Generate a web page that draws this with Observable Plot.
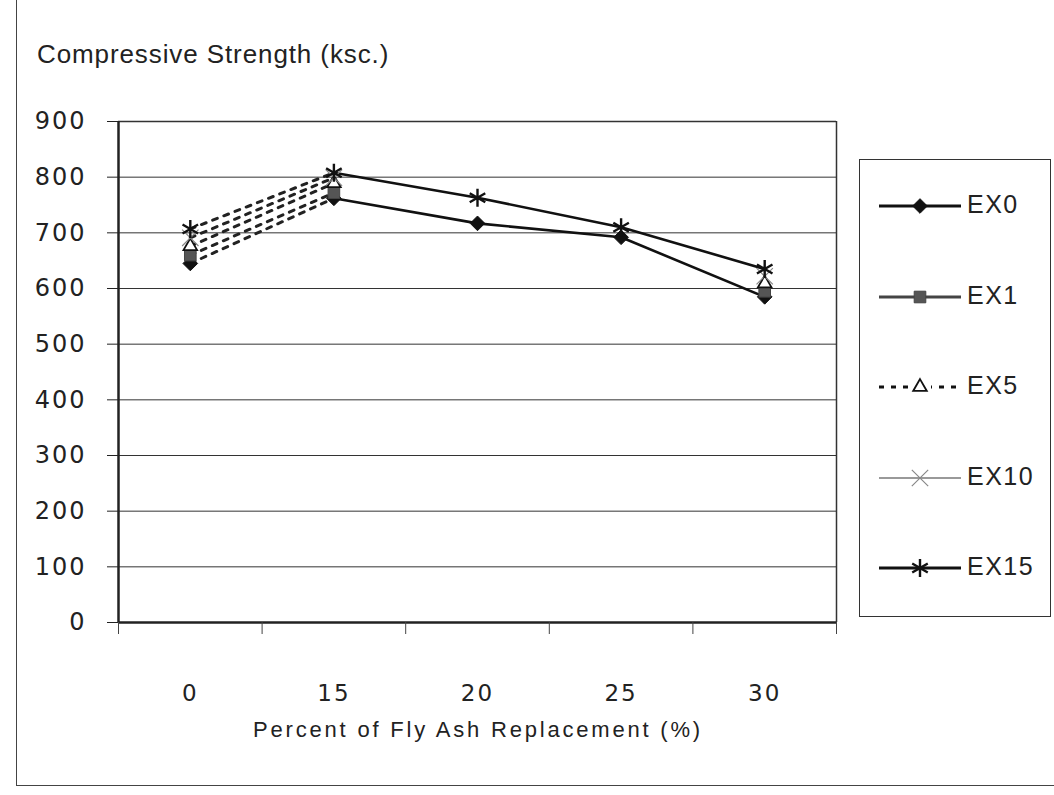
<!DOCTYPE html>
<html>
<head>
<meta charset="utf-8">
<script src="https://cdn.jsdelivr.net/npm/d3@7"></script>
<script src="https://cdn.jsdelivr.net/npm/@observablehq/plot@0.6"></script>
<style>
  html, body { margin: 0; padding: 0; background: #fff; }
  #wrap { position: relative; width: 1054px; height: 795px; overflow: hidden; background: #fff; }
  #border { position: absolute; left: 16px; top: -5px; width: 1100px; height: 791px; border-left: 1.5px solid #444; border-bottom: 1.5px solid #444; box-sizing: border-box; }
  #title { position: absolute; left: 37px; top: 41px; font: 26px "Liberation Sans", Arial, sans-serif; letter-spacing: 0.9px; color: #222; line-height: 1; white-space: nowrap; }
  #xtitle { position: absolute; left: 478px; top: 719px; transform: translateX(-50%); font: 22px "Liberation Sans", Arial, sans-serif; letter-spacing: 2.8px; color: #222; line-height: 1; white-space: nowrap; }
  #chart { position: absolute; left: 0; top: 0; }
  #chart svg text { letter-spacing: 2px; }
  #legend { position: absolute; left: 859px; top: 159px; width: 192px; height: 458px; border: 1.5px solid #333; box-sizing: border-box; }
  .entry { position: absolute; left: 0; width: 190px; height: 30px; }
  .entry svg { position: absolute; left: 0; top: 0; }
  .entry span { position: absolute; left: 107px; top: 1px; font: 25px "Liberation Sans", Arial, sans-serif; letter-spacing: 1.5px; color: #222; line-height: 1; }
</style>
</head>
<body>
<div id="wrap">
  <div id="border"></div>
  <div id="title">Compressive Strength (ksc.)</div>
  <div id="chart"></div>
  <div id="xtitle">Percent of Fly Ash Replacement (%)</div>
  <div id="legend"></div>
</div>
<script>
// ---- data ----
const categories = ["0", "15", "20", "25", "30"];
const seriesNames = ["EX0", "EX1", "EX5", "EX10", "EX15"];
const ex0  = [645, 762, 717, 692, 585];
const ex1  = [660, 772, null, null, 595];
const ex5  = [676, 789, null, null, 609];
const ex10 = [691, 799, null, null, 622];
const ex15 = [707, 808, 763, 710, 635];
const yTicks = [0, 100, 200, 300, 400, 500, 600, 700, 800, 900];

const values = {EX0: ex0, EX1: ex1, EX5: ex5, EX10: ex10, EX15: ex15};

// ---- styles per series ----
const styles = {
  EX0:  {line: "#111", symbol: "diamond2", fill: "#111", stroke: "#111", r: 6.6, sw: 1},
  EX1:  {line: "#444", symbol: "square2", fill: "#555", stroke: "#444", r: 7.4, sw: 1},
  EX5:  {line: "#111", symbol: "triangle2", fill: "#fff", stroke: "#111", r: 6.5, sw: 1.8},
  EX10: {line: "#999", symbol: "times", fill: "none", stroke: "#888", r: 7.5, sw: 1.2},
  EX15: {line: "#111", symbol: "asterisk", fill: "none", stroke: "#111", r: 8.5, sw: 2.4}
};

const rows = [];
for (const s of seriesNames) {
  categories.forEach((c, i) => rows.push({series: s, i, cat: c, v: values[s][i]}));
}

const marks = [
  Plot.ruleY(yTicks, {stroke: "#333", strokeWidth: 1}),
  Plot.ruleY([0], {stroke: "#222", strokeWidth: 2.5}),
  Plot.ruleY([900], {stroke: "#333", strokeWidth: 1.5}),
  Plot.ruleX([0], {stroke: "#222", strokeWidth: 2.5}),
  Plot.ruleX([categories.length], {stroke: "#333", strokeWidth: 1.5}),
  Plot.axisY({ticks: yTicks, tickSize: 11, tickPadding: 21, fontSize: 24, fontFamily: "DejaVu Sans", tickFormat: d => String(d), label: null, stroke: "#222", fill: "#222"}),
  Plot.axisX({ticks: d3.range(categories.length + 1), tickSize: 12, tickFormat: () => "", label: null, stroke: "#444"}),
  Plot.axisX({ticks: categories.map((c, i) => i + 0.5), tickSize: 0, tickPadding: 62, fontSize: 23, fontFamily: "DejaVu Sans", tickFormat: t => categories[Math.round(t - 0.5)], label: null, fill: "#222"})
];

for (const s of seriesNames) {
  const st = styles[s];
  const data = rows.filter(d => d.series === s);
  marks.push(Plot.line(data.filter(d => d.i <= 1), {
    x: d => d.i + 0.5, y: "v", stroke: "#222", strokeWidth: 3, strokeDasharray: "5,7"
  }));
  marks.push(Plot.line(data.filter(d => d.i >= 1), {
    x: d => d.i + 0.5, y: "v", stroke: st.line, strokeWidth: 2.6
  }));
}
for (const s of seriesNames) {
  const st = styles[s];
  const data = rows.filter(d => d.series === s && d.v != null);
  marks.push(Plot.dot(data, {
    x: d => d.i + 0.5, y: "v", symbol: st.symbol, r: st.r,
    fill: st.fill, stroke: st.stroke, strokeWidth: st.sw
  }));
}

const chart = Plot.plot({
  width: 850,
  height: 795,
  marginLeft: 118,
  marginRight: 14,
  marginTop: 121,
  marginBottom: 173,
  x: {type: "linear", domain: [0, categories.length], axis: null},
  y: {domain: [0, 900], axis: null},
  style: {background: "transparent", fontFamily: "DejaVu Sans"},
  marks
});
document.getElementById("chart").appendChild(chart);

// ---- legend ----
const legend = document.getElementById("legend");
const symbolMap = {diamond2: d3.symbolDiamond2, square2: d3.symbolSquare2, triangle2: d3.symbolTriangle2, times: d3.symbolTimes, asterisk: d3.symbolAsterisk};
seriesNames.forEach((s, k) => {
  const st = styles[s];
  const div = document.createElement("div");
  div.className = "entry";
  div.style.top = (31 + k * 90.5) + "px";
  const svg = d3.create("svg").attr("width", 105).attr("height", 30);
  const dash = s === "EX5" ? "5,7" : null;
  svg.append("line").attr("x1", 19).attr("x2", 101).attr("y1", 15).attr("y2", 15)
    .attr("stroke", s === "EX10" ? "#999" : (s === "EX1" ? "#444" : "#111"))
    .attr("stroke-width", s === "EX10" ? 2.2 : 2.8)
    .attr("stroke-dasharray", dash);
  if (s === "EX5") {
    svg.append("rect").attr("x", 49).attr("y", 3).attr("width", 22).attr("height", 24).attr("fill", "#fff");
  }
  svg.append("path")
    .attr("transform", "translate(60,15)")
    .attr("d", d3.symbol(symbolMap[st.symbol], Math.PI * st.r * st.r)())
    .attr("fill", st.fill).attr("stroke", st.stroke).attr("stroke-width", st.sw);
  div.appendChild(svg.node());
  const span = document.createElement("span");
  span.textContent = s;
  div.appendChild(span);
  legend.appendChild(div);
});
</script>
</body>
</html>
